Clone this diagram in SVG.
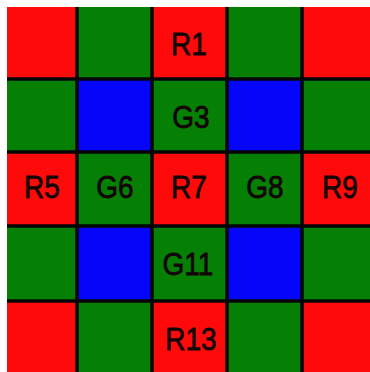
<svg xmlns="http://www.w3.org/2000/svg" width="370" height="372" viewBox="0 0 370 372">
<style>
.r{fill:#fe0a0a}.g{fill:#058005}.b{fill:#0505fa}
.t{font-family:"Liberation Sans",Arial,sans-serif;font-size:28px;fill:#140505;stroke:#140505;stroke-width:0.7;text-anchor:middle}
.ln{stroke:#050505;stroke-width:3.5}
</style>
<rect width="370" height="372" fill="#fff"/>
<g id="cells">
<g id="c00"><rect class="r" x="7" y="7" width="70" height="72"/></g>
<g id="c01"><rect class="g" x="77" y="7" width="75" height="72"/></g>
<g id="c02"><rect class="r" x="152" y="7" width="75" height="72"/><text class="t" transform="translate(189,55) scale(1,1.15)">R1</text></g>
<g id="c03"><rect class="g" x="227" y="7" width="75" height="72"/></g>
<g id="c04"><rect class="r" x="302" y="7" width="68" height="72"/></g>

<g id="c10"><rect class="g" x="7" y="79" width="70" height="73"/></g>
<g id="c11"><rect class="b" x="77" y="79" width="75" height="73"/></g>
<g id="c12"><rect class="g" x="152" y="79" width="75" height="73"/><text class="t" transform="translate(191,128) scale(1,1.15)">G3</text></g>
<g id="c13"><rect class="b" x="227" y="79" width="75" height="73"/></g>
<g id="c14"><rect class="g" x="302" y="79" width="68" height="73"/></g>

<g id="c20"><rect class="r" x="7" y="152" width="70" height="74"/><text class="t" transform="translate(42,198) scale(1,1.15)">R5</text></g>
<g id="c21"><rect class="g" x="77" y="152" width="75" height="74"/><text class="t" transform="translate(115,198) scale(1,1.15)">G6</text></g>
<g id="c22"><rect class="r" x="152" y="152" width="75" height="74"/><text class="t" transform="translate(189,198) scale(1,1.15)">R7</text></g>
<g id="c23"><rect class="g" x="227" y="152" width="75" height="74"/><text class="t" transform="translate(265,198) scale(1,1.15)">G8</text></g>
<g id="c24"><rect class="r" x="302" y="152" width="68" height="74"/><text class="t" transform="translate(340,198) scale(1,1.15)">R9</text></g>

<g id="c30"><rect class="g" x="7" y="226" width="70" height="75"/></g>
<g id="c31"><rect class="b" x="77" y="226" width="75" height="75"/></g>
<g id="c32"><rect class="g" x="152" y="226" width="75" height="75"/><text class="t" transform="translate(188,275) scale(1,1.15)">G11</text></g>
<g id="c33"><rect class="b" x="227" y="226" width="75" height="75"/></g>
<g id="c34"><rect class="g" x="302" y="226" width="68" height="75"/></g>

<g id="c40"><rect class="r" x="7" y="301" width="70" height="71"/></g>
<g id="c41"><rect class="g" x="77" y="301" width="75" height="71"/></g>
<g id="c42"><rect class="r" x="152" y="301" width="75" height="71"/><text class="t" transform="translate(191,350) scale(1,1.15)">R13</text></g>
<g id="c43"><rect class="g" x="227" y="301" width="75" height="71"/></g>
<g id="c44"><rect class="r" x="302" y="301" width="68" height="71"/></g>
</g>
<g id="gridlines">
<line class="ln" x1="77" y1="7" x2="77" y2="372"/>
<line class="ln" x1="152" y1="7" x2="152" y2="372"/>
<line class="ln" x1="227" y1="7" x2="227" y2="372"/>
<line class="ln" x1="302" y1="7" x2="302" y2="372"/>
<line class="ln" x1="7" y1="79" x2="370" y2="79"/>
<line class="ln" x1="7" y1="152" x2="370" y2="152"/>
<line class="ln" x1="7" y1="226" x2="370" y2="226"/>
<line class="ln" x1="7" y1="301" x2="370" y2="301"/>
</g>
</svg>
